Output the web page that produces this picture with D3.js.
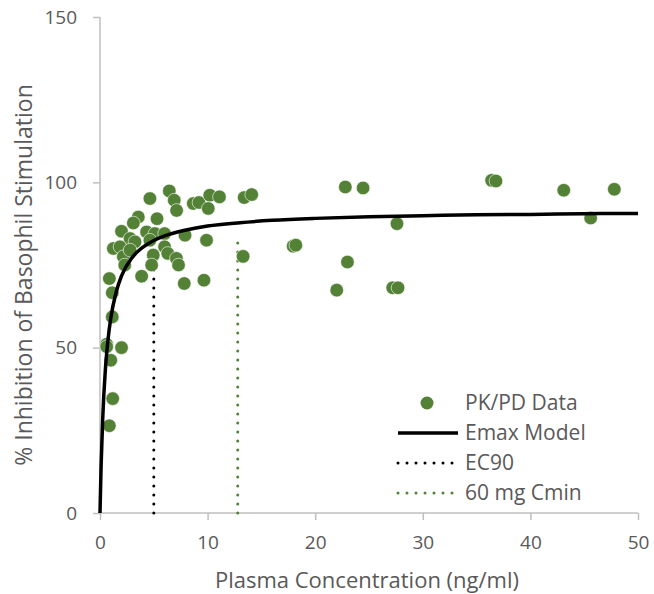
<!DOCTYPE html>
<html lang="en">
<head>
    <meta charset="UTF-8">
    <title>PK/PD Emax Model</title>
    <script src="https://d3js.org/d3.v7.min.js"></script>
    <style>
        body {
            margin: 0;
            background-color: #ffffff;
            font-family: "Open Sans", "Noto Sans", sans-serif;
        }
        .axis text {
            fill: #595959;
            font-size: 19px;
            font-family: "Open Sans", sans-serif;
        }
        .axis path,
        .axis line {
            stroke: #bfbfbf;
            stroke-width: 1.5px;
        }
        .axis-label {
            fill: #595959;
            font-size: 22px;
        }
        .legend text {
            fill: #595959;
            font-size: 21px;
        }
    </style>
</head>
<body>
    <svg width="654" height="594"></svg>

    <script>
        // PK/PD observations (concentration ng/ml, % inhibition)
        const dataConc = [4.64, 6.44, 6.9, 7.12, 8.67, 9.2, 10.2, 10.06, 11.1, 13.4, 14.1,
            3.56, 3.1, 5.3, 2.0, 2.8, 3.25, 4.33, 5.1, 6.0, 4.64, 7.9, 9.9,
            1.24, 1.86, 2.17, 2.8, 2.3, 6.0, 6.3, 4.95, 4.8, 7.1, 7.3, 13.3,
            0.87, 3.87, 7.83, 9.66, 1.14, 1.14, 0.62, 2.0, 0.62, 1.0, 1.18, 0.87,
            17.95, 18.2, 22.8, 24.45, 27.6, 23.0, 22.0, 27.2, 27.7, 36.4, 36.8, 43.1, 47.8, 45.6];
        const dataInhib = [95.1, 97.4, 94.6, 91.5, 93.6, 93.9, 96.1, 92.1, 95.6, 95.4, 96.3,
            89.5, 87.7, 89.0, 85.2, 83.0, 82.0, 85.0, 84.5, 84.5, 82.5, 84.0, 82.5,
            80.0, 80.5, 77.5, 79.5, 75.0, 80.5, 78.5, 78.0, 75.0, 77.0, 75.0, 77.6,
            70.9, 71.6, 69.4, 70.4, 66.6, 59.3, 51.0, 50.0, 50.3, 46.2, 34.6, 26.4,
            80.7, 81.0, 98.6, 98.3, 87.5, 75.9, 67.4, 68.1, 68.1, 100.6, 100.4, 97.6, 97.9, 89.2];

        // Emax model curve
        const modelConc = [0, 0.1, 0.25, 0.5, 0.75, 1, 1.5, 2, 3, 4, 5, 6, 8, 10, 13, 16, 20, 25, 30, 35, 40, 45, 50];
        const modelInhib = [0, 14.0, 28.4, 43.4, 52.6, 58.9, 66.8, 71.7, 77.3, 80.4, 82.4, 83.8, 85.6, 86.8,
            87.8, 88.5, 89.1, 89.6, 89.9, 90.2, 90.3, 90.5, 90.6];

        // reference lines: [concentration, top of line]
        const ec90 = [5.0, 81];
        const cmin60 = [12.8, 84];

        const xTicks = [0, 10, 20, 30, 40, 50];
        const yTicks = [0, 50, 100, 150];
        const legendLabels = ["PK/PD Data", "Emax Model", "EC90", "60 mg Cmin"];

        const green = "#538135";

        const svg = d3.select("svg");
        const x = d3.scaleLinear().domain([0, 50]).range([100, 638]);
        const y = d3.scaleLinear().domain([0, 150]).range([513, 17]);

        // axes
        svg.append("g").attr("class", "axis")
            .attr("transform", "translate(0,513)")
            .call(d3.axisBottom(x).tickValues(xTicks).tickSize(7).tickPadding(16))
            .call(g => g.select(".domain").attr("d", "M100,0H638"));

        svg.append("g").attr("class", "axis")
            .attr("transform", "translate(100,0)")
            .call(d3.axisLeft(y).tickValues(yTicks).tickSize(7).tickPadding(16))
            .call(g => g.select(".domain").attr("d", "M0,513V17"));

        svg.append("text").attr("class", "axis-label")
            .attr("x", 367).attr("y", 588)
            .attr("text-anchor", "middle")
            .text("Plasma Concentration (ng/ml)");

        svg.append("text").attr("class", "axis-label")
            .attr("transform", "translate(32,275) rotate(-90)")
            .attr("text-anchor", "middle")
            .style("font-size", "23px")
            .text("% Inhibition of Basophil Stimulation");

        // vertical dotted reference lines
        svg.append("line")
            .attr("x1", x(ec90[0])).attr("x2", x(ec90[0]))
            .attr("y1", y(0)).attr("y2", y(ec90[1]))
            .attr("stroke", "#000").attr("stroke-width", 3)
            .attr("stroke-linecap", "round").attr("stroke-dasharray", "0 9");

        svg.append("line")
            .attr("x1", x(cmin60[0])).attr("x2", x(cmin60[0]))
            .attr("y1", y(0)).attr("y2", y(cmin60[1]))
            .attr("stroke", green).attr("stroke-width", 3)
            .attr("stroke-linecap", "round").attr("stroke-dasharray", "0 9");

        // data points
        svg.append("g").selectAll("circle")
            .data(dataConc.map((c, i) => ({ c, v: dataInhib[i] })))
            .enter().append("circle")
            .attr("cx", d => x(d.c))
            .attr("cy", d => y(d.v))
            .attr("r", 6.8)
            .attr("fill", green)
            .attr("stroke", "#ffffff")
            .attr("stroke-width", 0.6);

        // model curve
        const line = d3.line()
            .x(d => x(d[0]))
            .y(d => y(d[1]))
            .curve(d3.curveMonotoneX);

        svg.append("path")
            .datum(modelConc.map((c, i) => [c, modelInhib[i]]))
            .attr("d", line)
            .attr("fill", "none")
            .attr("stroke", "#000")
            .attr("stroke-width", 3.5);

        // legend
        const legend = svg.append("g").attr("class", "legend");
        const rowY = [403, 433, 463, 493];

        legend.append("circle").attr("cx", 427).attr("cy", rowY[0]).attr("r", 6.5).attr("fill", green);
        legend.append("line").attr("x1", 398).attr("x2", 458).attr("y1", rowY[1]).attr("y2", rowY[1])
            .attr("stroke", "#000").attr("stroke-width", 3.5);
        legend.append("line").attr("x1", 398).attr("x2", 458).attr("y1", rowY[2]).attr("y2", rowY[2])
            .attr("stroke", "#000").attr("stroke-width", 3)
            .attr("stroke-linecap", "round").attr("stroke-dasharray", "0 9");
        legend.append("line").attr("x1", 398).attr("x2", 458).attr("y1", rowY[3]).attr("y2", rowY[3])
            .attr("stroke", green).attr("stroke-width", 3)
            .attr("stroke-linecap", "round").attr("stroke-dasharray", "0 9");

        legend.selectAll("text").data(legendLabels).enter()
            .append("text")
            .attr("x", 465)
            .attr("y", (d, i) => rowY[i])
            .attr("dy", "0.35em")
            .text(d => d);
    </script>
</body>
</html>
